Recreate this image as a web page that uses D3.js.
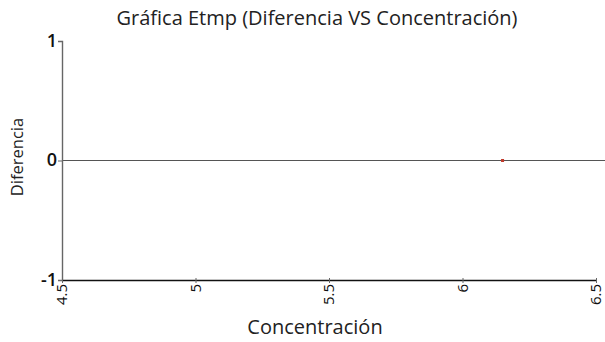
<!DOCTYPE html>
<html><head><meta charset="utf-8">
<script src="https://cdn.jsdelivr.net/npm/d3@7"></script>
<style>body{margin:0;background:#fff}svg{display:block}text{font-family:"Open Sans",sans-serif}</style>
</head><body><svg id="c" width="605" height="342"></svg>
<script>
const xValues = [6.15];
const yValues = [0];
const xTicks = [4.5, 5, 5.5, 6, 6.5];
const yTicks = [-1, 0, 1];
const title = "Gráfica Etmp (Diferencia VS Concentración)";
const xLabel = "Concentración";
const yLabel = "Diferencia";

const svg = d3.select("#c");
const x = d3.scaleLinear().domain([4.5, 6.5]).range([62, 596]);
const y = d3.scaleLinear().domain([-1, 1]).range([280, 41]);

// zero line
svg.append("line").attr("x1", x(4.5)).attr("x2", 605).attr("y1", y(0)).attr("y2", y(0))
  .attr("stroke", "#555").attr("stroke-width", 1.2);

// y axis
const ya = svg.append("g").attr("transform", `translate(${x(4.5)},0)`)
  .call(d3.axisLeft(y).tickValues(yTicks).tickFormat(d => String(d)).tickSize(4));
ya.select(".domain").attr("stroke", "#666").attr("stroke-width", 1.4);
ya.selectAll(".tick line").attr("stroke", "#666");
ya.selectAll("text").attr("font-size", 18).attr("font-weight", 600).attr("fill", "#111").attr("dx", 2).attr("dy", "0.3em");

// x axis
const xa = svg.append("g").attr("transform", `translate(0,${y(-1)})`)
  .call(d3.axisBottom(x).tickValues(xTicks).tickFormat(d => String(d)).tickSize(3).tickSizeOuter(0));
xa.select(".domain").attr("stroke", "#111").attr("stroke-width", 1.4);
xa.selectAll(".tick line").attr("stroke", "#666").attr("y1", -2);
xa.selectAll("text").attr("font-size", 15).attr("fill", "#111")
  .attr("transform", "rotate(-90)").attr("text-anchor", "end")
  .attr("x", -4).attr("y", 0).attr("dy", "0.3em");

// points
svg.selectAll("rect.pt").data(xValues).enter().append("rect").attr("class", "pt")
  .attr("x", (d) => x(d) - 1.5).attr("y", (d, i) => y(yValues[i]) - 1.5)
  .attr("width", 3).attr("height", 3).attr("fill", "#c0392b");

svg.append("text").attr("x", 317).attr("y", 25).attr("text-anchor", "middle")
  .attr("font-size", 20).attr("fill", "#222").text(title);
svg.append("text").attr("x", 315).attr("y", 334).attr("text-anchor", "middle")
  .attr("font-size", 20).attr("fill", "#222").text(xLabel);
svg.append("text").attr("transform", "translate(23,157) rotate(-90)").attr("text-anchor", "middle")
  .attr("font-size", 16.5).attr("fill", "#222").text(yLabel);
</script></body></html>
